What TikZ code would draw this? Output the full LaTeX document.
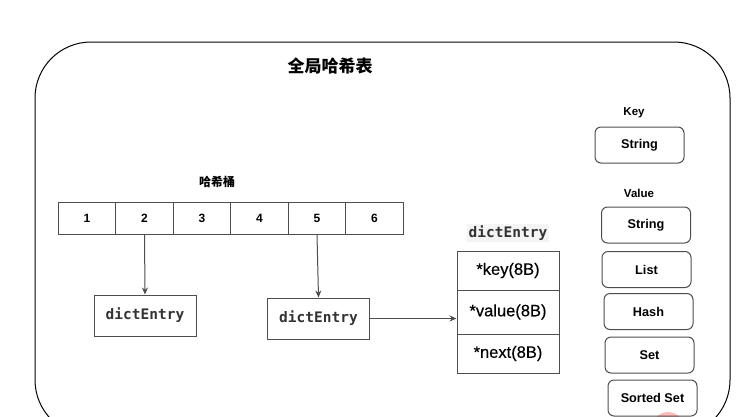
\documentclass[tikz,border=0pt]{standalone}
\usepackage{fontspec}
\setmainfont{Liberation Sans}
\setmonofont{DejaVu Sans Mono}
\newfontfamily\cjk{Noto Sans CJK SC}
\newfontfamily\fieldfont[FakeBold=0.4]{Liberation Sans}
\usetikzlibrary{arrows.meta}
\definecolor{edgegray}{HTML}{4D4D4D}
\definecolor{codegray}{HTML}{333333}
\definecolor{codebg}{HTML}{F4F4F4}
\tikzset{
  cell/.style={draw=edgegray, line width=1pt, minimum width=57.5pt, minimum height=32pt, inner sep=0pt, font=\fontsize{12}{14}\selectfont\bfseries},
  entrybox/.style={draw=edgegray, line width=1pt, minimum width=102pt, minimum height=41pt, inner sep=0pt, font=\fontsize{14.5}{16}\ttfamily\bfseries, text=codegray},
  fieldbox/.style={draw=edgegray, line width=1pt, minimum width=102pt, inner sep=0pt, font=\fontsize{16.5}{18}\fieldfont},
  typebox/.style={draw=edgegray, line width=1pt, rounded corners=6pt, minimum width=89pt, minimum height=36pt, inner sep=0pt, font=\fontsize{12.7}{14}\selectfont\bfseries},
  conn/.style={draw=edgegray, line width=1pt, -{Stealth[length=7pt,width=6pt,fill=black]}},
}
\begin{document}
\begin{tikzpicture}[x=1pt,y=-1pt]
\useasboundingbox (0,0) rectangle (746,416);
\begin{scope}
\clip (0,0) rectangle (746,416);
\draw[line width=1pt, rounded corners=56pt] (35,42) rectangle (730,436);
\fill[red!45, opacity=0.6] (668,428) circle (16);
\end{scope}
\node[font=\fontsize{17}{20}\cjk\bfseries] (title) at (330,66) {全局哈希表};
\node[font=\fontsize{12}{14}\cjk\bfseries] (bucketlbl) at (217,182) {哈希桶};
% buckets
\node[cell] (b1) at (87,218) {1};
\node[cell] (b2) at (144.5,218) {2};
\node[cell] (b3) at (202,218) {3};
\node[cell] (b4) at (259.5,218) {4};
\node[cell] (b5) at (317,218) {5};
\node[cell] (b6) at (374.5,218) {6};
% entries
\node[entrybox] (d1) at (145,315.5) {dictEntry};
\node[entrybox] (d2) at (318.5,318.5) {dictEntry};
% struct
\node[fill=codebg, inner sep=1.5pt, font=\fontsize{14.5}{16}\ttfamily\bfseries, text=codegray] (slbl) at (508,233) {dictEntry};
\node[fieldbox, minimum height=39pt] (fk) at (508,270.5) {*key(8B)};
\node[fieldbox, minimum height=44pt] (fv) at (508,312) {*value(8B)};
\node[fieldbox, minimum height=39pt] (fn) at (508,353.5) {*next(8B)};
% connectors
\draw[conn] (b2.south) -- (d1.north);
\draw[conn] (b5.south) -- (d2.north);
\draw[conn] (d2.east) -- (d2.east -| fv.west);
% types
\node[font=\fontsize{11.5}{13}\selectfont\bfseries] (keylbl) at (634,113) {Key};
\node[typebox] (ks) at (639.5,145) {String};
\node[font=\fontsize{11.5}{13}\selectfont\bfseries] (vallbl) at (639,193) {Value};
\node[typebox] (vs) at (646,225) {String};
\node[typebox] (vl) at (646.5,269.5) {List};
\node[typebox] (vh) at (648.5,311.5) {Hash};
\node[typebox] (vset) at (649.5,355) {Set};
\node[typebox] (vz) at (652.5,398) {Sorted Set};
\end{tikzpicture}
\end{document}
